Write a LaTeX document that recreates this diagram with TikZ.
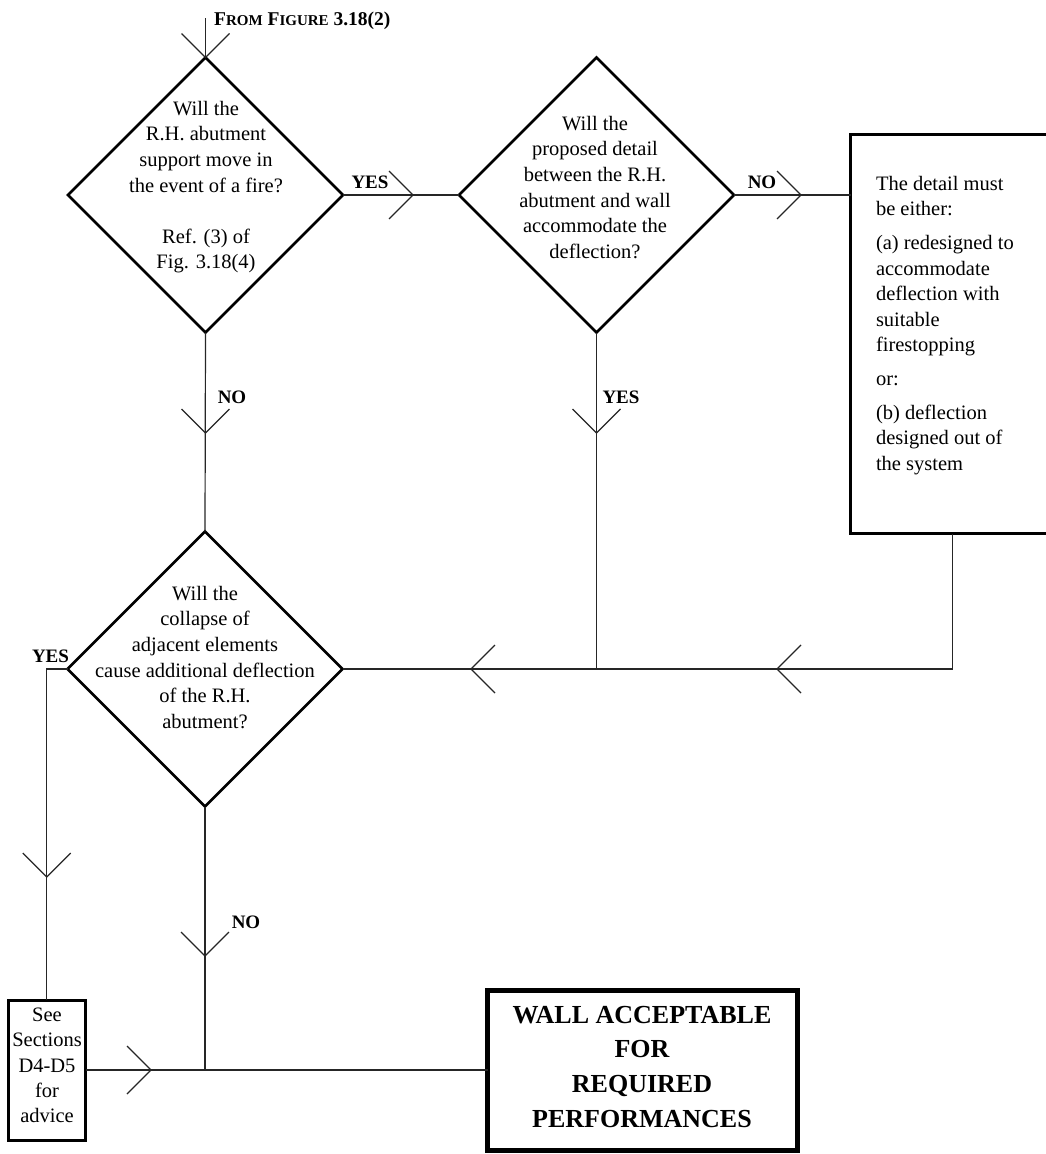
\documentclass[tikz,border=0pt]{standalone}
\usepackage{fontspec}
\setmainfont{Liberation Serif}
\usetikzlibrary{shapes.geometric}
\begin{document}
\begin{tikzpicture}[x=1pt,y=-1pt,
  conn/.style={line width=1.2pt, black!85},
  dia/.style={draw, diamond, aspect=1, line width=2.6pt, minimum width=275pt, minimum height=275pt, inner sep=0pt, outer sep=0pt},
  boxn/.style={draw, rectangle, inner sep=0pt, outer sep=0pt},
  txt/.style={font=\fontsize{20.5}{25.6}\selectfont, align=center, inner sep=0pt, outer sep=0pt},
  lab/.style={font=\fontsize{19}{20}\selectfont\bfseries, inner sep=0pt},
  chevD/.pic={\draw[conn] (-24,-24) -- (0,0) -- (24,-24);},
  chevR/.pic={\draw[conn] (-24,-24) -- (0,0) -- (-24,24);},
  chevL/.pic={\draw[conn] (24,-24) -- (0,0) -- (24,24);}]
\useasboundingbox (0,0) rectangle (1046,1154);
\clip (0,0) rectangle (1046,1154);

% shapes
\node[dia] (d1) at (205.5,195) {};
\node[dia] (d2) at (596.5,195) {};
\node[dia] (d3) at (205,669) {};
\node[boxn, line width=3pt, minimum width=204pt, minimum height=399.5pt] (rb) at (952.5,333.75) {};
\node[boxn, line width=3pt, minimum width=77.5pt, minimum height=140pt] (sb) at (46.75,1070) {};
\node[boxn, line width=5pt, minimum width=310pt, minimum height=160pt] (bb) at (642.5,1070) {};
\coordinate (start) at (205.5,18);

% texts
\node[txt, anchor=north] (t1) at (206,101) {Will the\\R.H. abutment\\support move in\\the event of a fire?\\[25.6pt]Ref. (3) of\\Fig. 3.18(4)};
\node[txt, anchor=north] (t2) at (595,116) {Will the\\proposed detail\\between the R.H.\\abutment and wall\\accommodate the\\deflection?};
\node[txt, anchor=north] (t3) at (205,586) {Will the\\collapse of\\adjacent elements\\cause additional deflection\\of the R.H.\\abutment?};
\node[txt, align=left, anchor=north west] (t4) at (876,176) {The detail must\\be either:\\[8pt](a) redesigned to\\accommodate\\deflection with\\suitable\\firestopping\\[8pt]or:\\[8pt](b) deflection\\designed out of\\the system};
\node[txt, font=\fontsize{20.5}{25.3}\selectfont, anchor=north] (t5) at (47,1008) {See\\Sections\\D4-D5\\for\\advice};
\node[txt, font=\fontsize{26}{34.7}\selectfont\bfseries, anchor=north] (t6) at (642,1006) {WALL ACCEPTABLE\\FOR\\REQUIRED\\PERFORMANCES};

% labels
\node[inner sep=0pt, anchor=base west, font=\fontsize{19.5}{20}\selectfont\bfseries] (from) at (214,25) {F{\fontsize{15}{16}\selectfont ROM} F{\fontsize{15}{16}\selectfont IGURE} 3.18(2)};
\node[lab, anchor=base] (y1) at (370,188) {YES};
\node[lab, anchor=base] (n1) at (762,188) {NO};
\node[lab, anchor=base] (n2) at (232,403) {NO};
\node[lab, anchor=base] (y2) at (621,403) {YES};
\node[lab, anchor=base] (y3) at (50.5,662) {YES};
\node[lab, anchor=base] (n3) at (246,928) {NO};

% connectors
\draw[conn] (start) -- (d1.north);
\draw[conn] (d1.east) -- (d2.west);
\draw[conn] (d2.east) -- (rb.west |- d2.east);
\draw[conn] (d1.south) -- (d3.north);
\draw[conn] (d2.south) -- (d2.south |- d3.east);
\draw[conn] (rb.south) |- (d3.east);
\draw[conn] (d3.west) -| (sb.north);
\draw[conn] (sb.east) -- (bb.west);
\draw[conn] (d3.south) -- (d3.south |- bb.west);

% chevrons
\pic at (d1.north) {chevD};
\pic at (413,195) {chevR};
\pic at (801,195) {chevR};
\pic at (205.5,433) {chevD};
\pic at (596.5,433) {chevD};
\pic at (777,669) {chevL};
\pic at (471,669) {chevL};
\pic at (46.75,877) {chevD};
\pic at (151,1070) {chevR};
\pic at (205,956) {chevD};
\end{tikzpicture}
\end{document}
